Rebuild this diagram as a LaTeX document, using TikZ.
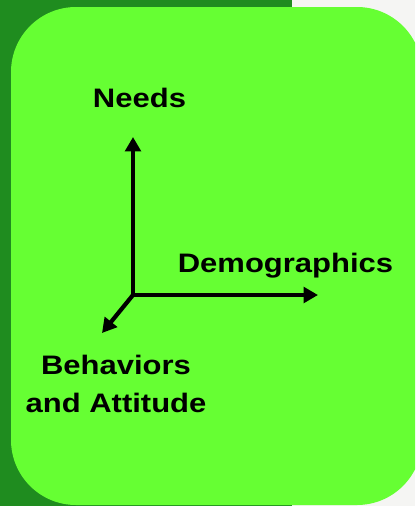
\documentclass[tikz,border=0pt]{standalone}
\usepackage{fontspec}
\newfontfamily\axisfont[FakeStretch=1.16]{Liberation Sans}
\usetikzlibrary{arrows.meta}
\definecolor{darkleaf}{RGB}{31,140,31}
\definecolor{lime}{RGB}{102,255,51}
\definecolor{paper}{RGB}{245,245,243}
\tikzset{
  panel/.style={fill=lime, draw=none, rounded corners=1.625cm},
  axis/.style={line width=0.105cm, draw=black, line cap=butt,
    -{Triangle[length=0.36cm, width=0.39cm]}},
  axislabel/.style={font=\axisfont\bfseries\fontsize{19pt}{26.6pt}\selectfont, anchor=base, inner sep=0pt},
}

\begin{document}
\begin{tikzpicture}[x=0.025cm, y=-0.025cm]
\useasboundingbox (0,0) rectangle (415,506);
\clip (0,0) rectangle (415,506);
\fill[paper] (0,0) rectangle (415,506);
\fill[darkleaf] (0,0) rectangle (292,506);
\fill[panel] (11,7) rectangle (422,505);
\coordinate (origin) at (133,295);
\coordinate (needsend) at (133,137);
\coordinate (demoend) at (318,295);
\coordinate (behavend) at (102,333);
\node[axislabel] (needs) at (139.5,107) {Needs};
\node[axislabel] (demo) at (285.5,272) {Demographics};
\node[axislabel, align=center] (behav) at (116,412) {Behaviors\\and Attitude};
\draw[axis] (origin) -- (needsend);
\draw[axis] (origin) -- (demoend);
\draw[axis] (origin) -- (behavend);
\end{tikzpicture}
\end{document}
